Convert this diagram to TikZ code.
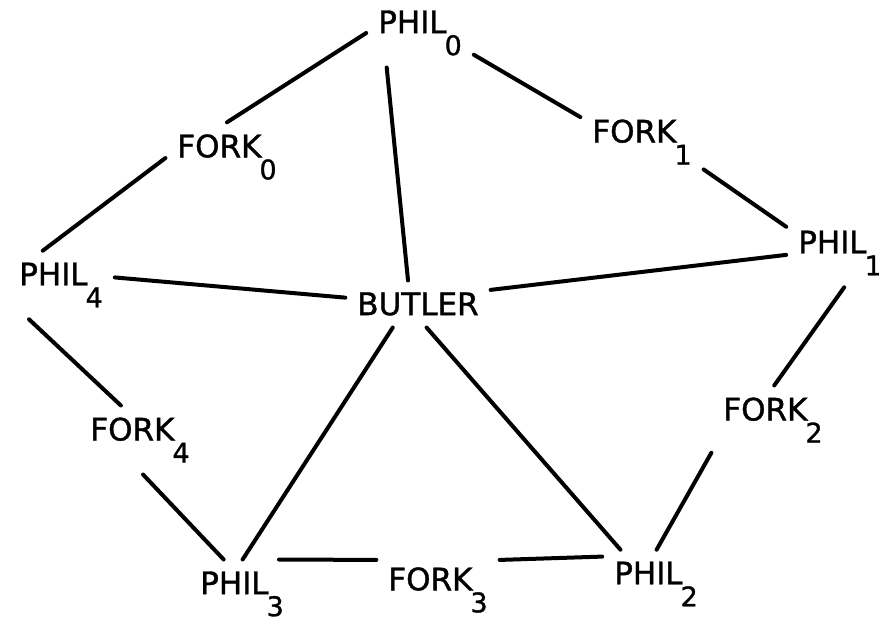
\documentclass[tikz,border=0pt]{standalone}
\usepackage{fontspec}
\setmainfont{DejaVu Sans}[FakeBold=1.2]
\newcommand\ix[1]{\kern-1pt\raisebox{-11pt}{\fontsize{13.5pt}{13.5pt}\selectfont #1}}

\begin{document}
\begin{tikzpicture}[x=0.5pt,y=-0.5pt,
  every node/.style={font=\fontsize{15.5pt}{18pt}\selectfont, inner sep=6pt, outer sep=0pt},
  link/.style={line width=2pt, line cap=round}]
  \useasboundingbox (0,0) rectangle (879,621);
  \node (phil0)  at (420,33)  {PHIL\ix{0}};
  \node (fork0)  at (227,157) {FORK\ix{0}};
  \node (fork1)  at (642,142) {FORK\ix{1}};
  \node (phil1)  at (840,253) {PHIL\ix{1}};
  \node (phil4)  at (61,285)  {PHIL\ix{4}};
  \node (butler) at (418,304) {BUTLER};
  \node (fork4)  at (140,440) {FORK\ix{4}};
  \node (fork2)  at (773,420) {FORK\ix{2}};
  \node (phil3)  at (242,594) {PHIL\ix{3}};
  \node (fork3)  at (438,590) {FORK\ix{3}};
  \node (phil2)  at (656,584) {PHIL\ix{2}};

  \draw[link] (phil0.180) -- (fork0.90);
  \draw[link] (fork0.181) -- (phil4.118);
  \draw[link] (phil0.338) -- (fork1.158);
  \draw[link] (fork1.336) -- (phil1.154);
  \draw[link] (phil0.226) -- (butler.113);
  \draw[link] (phil4.8) -- (butler.175);
  \draw[link] (phil1.182) -- (butler.11);
  \draw[link] (phil4.227) -- (fork4.119);
  \draw[link] (fork4.275) -- (phil3.118);
  \draw[link] (butler.223) -- (phil3.89);
  \draw[link] (butler.290) -- (phil2.136);
  \draw[link] (phil1.277) -- (fork2.88);
  \draw[link] (fork2.208) -- (phil2.89);
  \draw[link] (phil3.43) -- (fork3.154);
  \draw[link] (fork3.26) -- (phil2.153);
\end{tikzpicture}
\end{document}
